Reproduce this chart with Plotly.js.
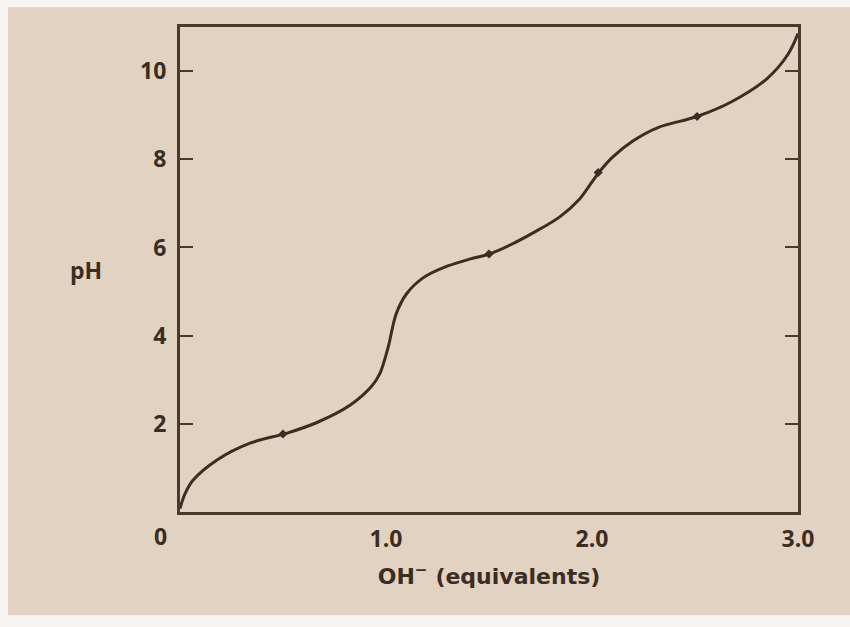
<!DOCTYPE html>
<html>
<head>
<meta charset="utf-8">
<script src="https://cdn.plot.ly/plotly-3.0.1.min.js"></script>
<style>
  html, body { margin: 0; padding: 0; background: #f7f5f2; width: 850px; height: 627px; overflow: hidden; }
  #chart { position: absolute; left: 8px; top: 7px; width: 842px; height: 608px; }
</style>
</head>
<body>
<div id="chart"></div>
<script>
// Titration curve: OH- equivalents vs pH
const equivalents = [0, 0.025, 0.063, 0.18, 0.34, 0.52, 0.665, 0.825, 0.93, 0.97, 1.01, 1.05, 1.10, 1.18, 1.30, 1.41, 1.50, 1.60, 1.714, 1.845, 1.94, 1.99, 2.04, 2.10, 2.20, 2.32, 2.51, 2.68, 2.85, 2.95, 3.0];
const pH          = [0.08, 0.42, 0.72, 1.18, 1.56, 1.79, 2.03, 2.42, 2.85, 3.14, 3.73, 4.5, 4.95, 5.31, 5.58, 5.74, 5.85, 6.05, 6.33, 6.7, 7.1, 7.42, 7.74, 8.05, 8.42, 8.72, 8.97, 9.31, 9.83, 10.37, 10.85];

// Marked points on the curve
const markX = [0.5, 1.5, 2.03, 2.51];
const markY = [1.77, 5.85, 7.7, 8.97];

const xTickVals = [1, 2, 3];
const xTickText = ["1.0", "2.0", "3.0"];
const yTickVals = [2, 4, 6, 8, 10];
const yTickText = ["2", "4", "6", "8", "10"];

const ink = "#3b2d22";
const bg = "#e2d2c1";
const fontFam = "'Open Sans', 'Noto Sans', sans-serif";
const titleFam = "'DejaVu Sans', 'Open Sans', sans-serif";
const fs = 23;

const traces = [
  {
    x: equivalents, y: pH, type: "scatter", mode: "lines",
    line: { color: ink, width: 3, shape: "spline", smoothing: 1 },
    hoverinfo: "skip", showlegend: false
  },
  {
    x: markX, y: markY, type: "scatter", mode: "markers",
    marker: { color: ink, size: 7, symbol: "diamond" },
    hoverinfo: "skip", showlegend: false
  }
];

const layout = {
  width: 842, height: 608,
  paper_bgcolor: bg, plot_bgcolor: bg,
  margin: { l: 172, r: 52, t: 20, b: 103 },
  font: { family: fontFam, color: ink, size: fs, weight: "bold" },
  showlegend: false,
  xaxis: {
    range: [0, 3], showgrid: false, zeroline: false,
    showline: true, linecolor: "#4a3a2e", linewidth: 3, mirror: true,
    tickmode: "array", tickvals: xTickVals, ticktext: xTickText,
    ticks: "", ticklabelstandoff: 4,
    tickfont: { family: fontFam, size: fs, color: ink, weight: "bold" },
    title: { text: "OH<sup>−</sup> (equivalents)", standoff: 17,
             font: { family: titleFam, size: 22, color: ink, weight: "bold" } }
  },
  yaxis: {
    range: [0, 11], showgrid: false, zeroline: false,
    showline: true, linecolor: "#4a3a2e", linewidth: 3, mirror: "ticks",
    tickmode: "array", tickvals: yTickVals, ticktext: yTickText,
    ticks: "inside", ticklen: 13, tickwidth: 2, tickcolor: "#4a3a2e",
    ticklabelstandoff: 6,
    tickfont: { family: fontFam, size: fs, color: ink, weight: "bold" }
  },
  annotations: [
    { x: 0, y: 0, xref: "paper", yref: "paper", text: "0", showarrow: false,
      xanchor: "center", yanchor: "middle",
      xshift: -20, yshift: -24, font: { family: fontFam, size: fs, color: ink, weight: "bold" } },
    { x: -0.152, y: 0.5, xref: "paper", yref: "paper", text: "pH", showarrow: false,
      xanchor: "center", yanchor: "middle",
      font: { family: fontFam, size: fs, color: ink, weight: "bold" } }
  ]
};

Plotly.newPlot("chart", traces, layout, { staticPlot: true, displayModeBar: false });
</script>
</body>
</html>
